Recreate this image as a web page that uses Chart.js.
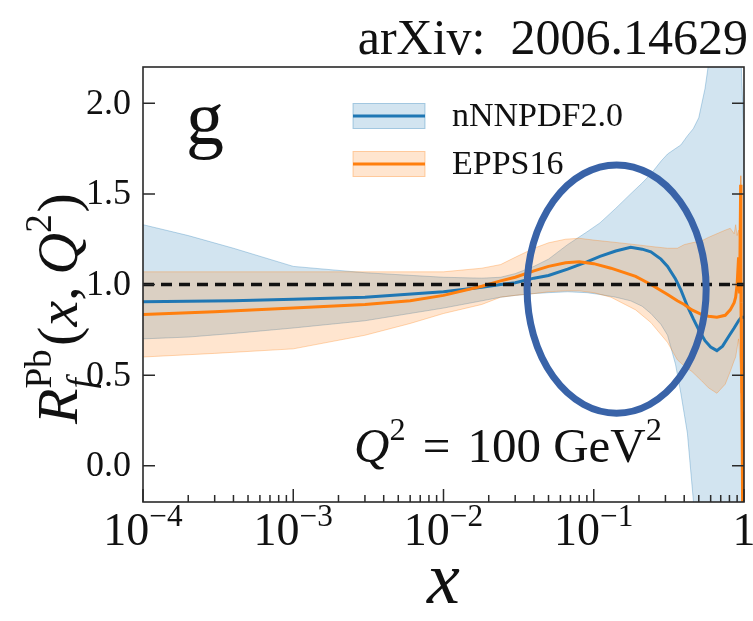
<!DOCTYPE html>
<html>
<head>
<meta charset="utf-8">
<script src="https://cdn.jsdelivr.net/npm/chart.js@4.4.0/dist/chart.umd.min.js"></script>
<style>
  html, body { margin: 0; padding: 0; background: #fff; }
  #wrap { width: 753px; height: 621px; }
</style>
</head>
<body>
<div id="wrap"><canvas id="c" width="753" height="621"></canvas></div>
<script>
// gluon nuclear modification R_g^Pb(x, Q^2 = 100 GeV^2)
const nnpdfX   = [1e-4, 2e-4, 4e-4, 1e-3, 3e-3, 1e-2, 0.018, 0.024, 0.03, 0.04, 0.05, 0.067, 0.09, 0.11, 0.14, 0.176, 0.21, 0.24, 0.28, 0.31, 0.35, 0.38, 0.42, 0.46, 0.5, 0.55, 0.6, 0.66, 0.72, 0.8, 0.86, 0.92, 0.96, 1.0];
const nnpdfMid = [0.905, 0.907, 0.91, 0.918, 0.93, 0.96, 0.985, 1.0, 1.01, 1.035, 1.05, 1.085, 1.125, 1.155, 1.185, 1.205, 1.195, 1.18, 1.14, 1.10, 1.03, 0.97, 0.88, 0.81, 0.75, 0.69, 0.655, 0.635, 0.66, 0.72, 0.76, 0.80, 0.82, 0.82];
const nnpdfUp  = [1.33, 1.27, 1.20, 1.10, 1.065, 1.04, 1.035, 1.04, 1.06, 1.10, 1.14, 1.22, 1.29, 1.34, 1.42, 1.50, 1.56, 1.61, 1.68, 1.72, 1.75, 1.77, 1.82, 1.86, 1.92, 2.08, 2.30, 2.60, 2.70, 2.70, 2.60, 2.50, 2.20, 1.80];
const nnpdfLow = [0.70, 0.71, 0.73, 0.76, 0.80, 0.87, 0.91, 0.93, 0.94, 0.95, 0.955, 0.96, 0.955, 0.945, 0.93, 0.91, 0.88, 0.84, 0.78, 0.72, 0.56, 0.40, 0.18, -0.19, -0.60, -0.80, -0.80, -0.80, -0.80, -0.80, -0.80, -0.80, -0.80, -0.80];

const eppsX   = [1e-4, 3e-4, 1e-3, 3e-3, 6e-3, 1e-2, 0.018, 0.024, 0.03, 0.04, 0.05, 0.065, 0.08, 0.1, 0.13, 0.19, 0.24, 0.31, 0.36, 0.4, 0.45, 0.52, 0.58, 0.66, 0.75, 0.81, 0.86, 0.88, 0.9, 0.92, 0.935, 0.95, 0.955, 0.96, 0.97, 0.98, 1.0];
const eppsMid = [0.835, 0.85, 0.87, 0.89, 0.91, 0.94, 0.99, 1.02, 1.04, 1.075, 1.10, 1.12, 1.125, 1.115, 1.09, 1.045, 1.0, 0.945, 0.91, 0.89, 0.86, 0.835, 0.825, 0.82, 0.83, 0.86, 0.90, 0.93, 1.0, 1.15, 0.95, 1.55, 0.90, 0.70, 0.30, -0.30, -0.40];
const eppsUp  = [1.07, 1.07, 1.07, 1.07, 1.07, 1.07, 1.09, 1.11, 1.15, 1.20, 1.23, 1.25, 1.255, 1.245, 1.235, 1.22, 1.21, 1.20, 1.20, 1.22, 1.23, 1.24, 1.26, 1.28, 1.30, 1.31, 1.28, 1.33, 1.27, 1.30, 1.25, 1.60, 1.40, 1.20, 1.00, 0.60, 0.50];
const eppsLow = [0.60, 0.62, 0.645, 0.72, 0.785, 0.84, 0.89, 0.93, 0.94, 0.95, 0.96, 0.965, 0.965, 0.955, 0.93, 0.86, 0.79, 0.68, 0.585, 0.55, 0.52, 0.47, 0.43, 0.40, 0.45, 0.52, 0.58, 0.60, 0.65, 0.70, 0.60, 0.50, 0.40, 0.20, -0.30, -0.50, -0.60];

const refX = [1e-4, 1];
const refY = [1, 1];

const yTicks = [0, 0.5, 1, 1.5, 2];
const yTickLabels = ['0.0', '0.5', '1.0', '1.5', '2.0'];
const xTicks = [1e-4, 1e-3, 1e-2, 1e-1, 1];
const xTickBase = ['10', '10', '10', '10', '1'];
const xTickExp = ['\u22124', '\u22123', '\u22122', '\u22121', ''];

// highlight ellipse, in data coordinates (x left/right, y top/bottom)
const ringX = [0.036, 0.56];
const ringY = [1.66, 0.29];

const BLUE = '#1f77b4', ORANGE = '#ff7f0e';
const BLUE_BAND = 'rgba(31,119,180,0.2)', ORANGE_BAND = 'rgba(255,127,14,0.2)';
const SERIF = '"Liberation Serif", "Times New Roman", serif';

function pts(xs, ys) { return xs.map((x, i) => ({ x: x, y: ys[i] })); }

// draw a run of text pieces (for super/subscripts), returns the width
function rich(ctx, parts, x, y, size, draw) {
  let cx = x;
  for (const p of parts) {
    const s = size * (p.s || 1);
    ctx.font = (p.i ? 'italic ' : '') + s + 'px ' + SERIF;
    cx += (p.pre || 0) * size;
    if (draw) ctx.fillText(p.t, cx + (p.dx || 0) * size, y - (p.up || 0) * size);
    if (!p.noAdv) cx += ctx.measureText(p.t).width + (p.gap || 0) * size;
  }
  return cx - x;
}

const decor = {
  id: 'decor',
  afterDraw(chart) {
    const { ctx, chartArea: a, scales: { x, y } } = chart;
    ctx.save();
    ctx.fillStyle = '#111';
    ctx.textBaseline = 'alphabetic';

    // ellipse
    const ex0 = x.getPixelForValue(ringX[0]), ex1 = x.getPixelForValue(ringX[1]);
    const ey0 = y.getPixelForValue(ringY[0]), ey1 = y.getPixelForValue(ringY[1]);
    ctx.beginPath();
    ctx.ellipse((ex0 + ex1) / 2, (ey0 + ey1) / 2, (ex1 - ex0) / 2, (ey1 - ey0) / 2, 0, 0, Math.PI * 2);
    ctx.lineWidth = 7;
    ctx.strokeStyle = '#3963a8';
    ctx.stroke();

    // frame
    ctx.strokeStyle = '#2a2a2a';
    ctx.lineWidth = 1.6;
    ctx.strokeRect(a.left, a.top, a.right - a.left, a.bottom - a.top);

    // y ticks (inward, both sides) and labels
    ctx.lineWidth = 1.5;
    ctx.font = '36px ' + SERIF;
    ctx.textAlign = 'right';
    ctx.textBaseline = 'middle';
    yTicks.forEach((v, i) => {
      const py = y.getPixelForValue(v);
      ctx.beginPath();
      ctx.moveTo(a.left, py); ctx.lineTo(a.left + 12, py);
      ctx.moveTo(a.right, py); ctx.lineTo(a.right - 12, py);
      ctx.stroke();
      ctx.fillText(yTickLabels[i], a.left - 12, py + 1);
    });

    // x ticks, major and minor
    ctx.beginPath();
    xTicks.forEach((v) => {
      const px = x.getPixelForValue(v);
      ctx.moveTo(px, a.bottom); ctx.lineTo(px, a.bottom - 13);
    });
    for (let k = 0; k < xTicks.length - 1; k++) {
      for (let m = 2; m <= 9; m++) {
        const px = x.getPixelForValue(m * xTicks[k]);
        ctx.moveTo(px, a.bottom); ctx.lineTo(px, a.bottom - 7);
      }
    }
    ctx.stroke();

    ctx.textAlign = 'left';
    ctx.textBaseline = 'alphabetic';
    xTicks.forEach((v, i) => {
      const parts = [{ t: xTickBase[i] }];
      if (xTickExp[i]) parts.push({ t: xTickExp[i], s: 0.68, up: 0.42 });
      const w = rich(ctx, parts, 0, 0, 46, false);
      rich(ctx, parts, x.getPixelForValue(v) - w / 2, a.bottom + 43, 46, true);
    });

    // axis titles
    ctx.font = 'italic 74px ' + SERIF;
    const xw = ctx.measureText('x').width;
    ctx.fillText('x', (a.left + a.right) / 2 - xw / 2, 603);

    const ylab = [
      { t: 'R', i: 1 },
      { t: 'f', i: 1, s: 0.64, up: -0.28, dx: 0.0, noAdv: 1 },
      { t: 'Pb', s: 0.64, up: 0.44, gap: 0.06 },
      { t: '(' }, { t: 'x', i: 1 }, { t: ',' }, { t: 'Q', i: 1, pre: 0.2 },
      { t: '2', s: 0.64, up: 0.44, gap: 0.03 }, { t: ')' }
    ];
    ctx.save();
    ctx.translate(77, 424);
    ctx.rotate(-Math.PI / 2);
    rich(ctx, ylab, 0, 0, 58, true);
    ctx.restore();

    // panel label and scale
    ctx.font = '76px ' + SERIF;
    ctx.fillText('g', 186, 144);
    rich(ctx, [
      { t: 'Q', i: 1 }, { t: '2', s: 0.66, up: 0.45 },
      { t: '=', pre: 0.35 }, { t: '100 GeV', pre: 0.35 }, { t: '2', s: 0.66, up: 0.45 }
    ], 354, 462, 49, true);

    // legend
    const leg = [[BLUE_BAND, 'rgba(31,119,180,0.35)', BLUE, 'nNNPDF2.0', 116],
                 [ORANGE_BAND, 'rgba(255,127,14,0.35)', ORANGE, 'EPPS16', 164]];
    leg.forEach(([fill, edge, col, name, cy]) => {
      ctx.fillStyle = fill;
      ctx.fillRect(353, cy - 12.5, 72, 25);
      ctx.strokeStyle = edge; ctx.lineWidth = 1;
      ctx.strokeRect(353, cy - 12.5, 72, 25);
      ctx.strokeStyle = col; ctx.lineWidth = 3;
      ctx.beginPath(); ctx.moveTo(353, cy); ctx.lineTo(425, cy); ctx.stroke();
      ctx.fillStyle = '#111';
      ctx.font = '34px ' + SERIF;
      ctx.textBaseline = 'middle';
      ctx.fillText(name, 452, cy + 1);
      ctx.textBaseline = 'alphabetic';
    });

    // source reference
    ctx.textAlign = 'right';
    ctx.font = '50px ' + SERIF;
    ctx.fillText('arXiv:  2006.14629', 748, 54);
    ctx.restore();
  }
};

const bandLine = (ys, xs, edge, fillTo, fillCol, order) => ({
  data: pts(xs, ys), borderColor: edge, borderWidth: 1, pointRadius: 0,
  fill: fillTo === null ? false : fillTo, backgroundColor: fillCol, order: order
});

new Chart(document.getElementById('c'), {
  type: 'line',
  data: {
    datasets: [
      { data: pts(refX, refY), borderColor: '#111', borderWidth: 3.5, borderDash: [11, 7], pointRadius: 0, order: 0 },
      { data: pts(eppsX, eppsMid), borderColor: ORANGE, borderWidth: 3, pointRadius: 0, order: 1 },
      { data: pts(nnpdfX, nnpdfMid), borderColor: BLUE, borderWidth: 3, pointRadius: 0, order: 2 },
      bandLine(eppsUp, eppsX, 'rgba(255,127,14,0.3)', 4, ORANGE_BAND, 3),
      bandLine(eppsLow, eppsX, 'rgba(255,127,14,0.3)', null, ORANGE_BAND, 3),
      bandLine(nnpdfUp, nnpdfX, 'rgba(31,119,180,0.3)', 6, BLUE_BAND, 5),
      bandLine(nnpdfLow, nnpdfX, 'rgba(31,119,180,0.3)', null, BLUE_BAND, 5)
    ]
  },
  options: {
    responsive: false,
    animation: false,
    devicePixelRatio: 1,
    events: [],
    layout: { padding: { left: 143, right: 9, top: 67, bottom: 119 } },
    elements: { line: { tension: 0 } },
    scales: {
      x: { type: 'logarithmic', min: 1e-4, max: 1, display: false },
      y: { type: 'linear', min: -0.2, max: 2.2, display: false }
    },
    plugins: { legend: { display: false }, tooltip: { enabled: false }, title: { display: false } }
  },
  plugins: [decor]
});
</script>
</body>
</html>
